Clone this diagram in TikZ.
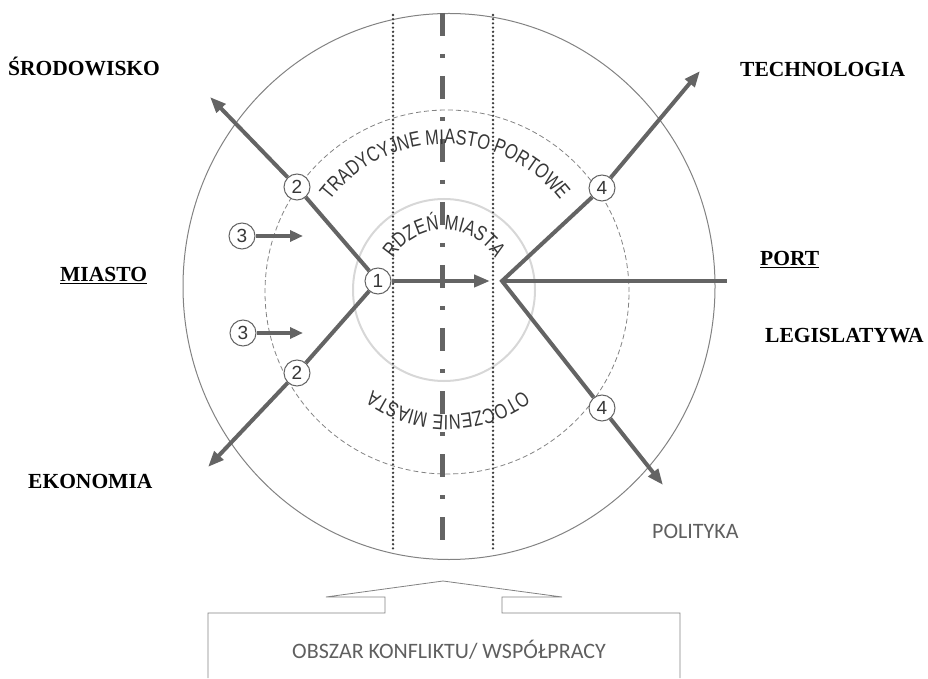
\documentclass[tikz,border=0pt]{standalone}
\usepackage{fontspec}
\setmainfont{Liberation Serif}
\newfontfamily\arialf{Liberation Sans}
\newfontfamily\arialn[FakeStretch=0.78]{Liberation Sans}
\newfontfamily\calf{Carlito}
\usetikzlibrary{arrows.meta,decorations.text}
\definecolor{lineg}{RGB}{100,100,100}
\definecolor{txtg}{RGB}{55,55,55}
\definecolor{numg}{RGB}{100,100,100}
\definecolor{circg}{RGB}{130,130,130}
\definecolor{innerg}{RGB}{215,215,215}
\definecolor{dotg}{RGB}{60,60,60}
\newcommand{\curvefont}{\arialn\fontsize{21}{21}\selectfont\color{txtg}}
\begin{document}
\begin{tikzpicture}[x=1pt,y=1pt,
  lbl/.style={font=\fontsize{21.5}{21.5}\selectfont\bfseries, anchor=base west, inner sep=0pt},
  graylbl/.style={font=\calf\fontsize{22}{22}\selectfont, text=txtg!80, inner sep=0pt},
  num/.style={circle, draw=numg, line width=1pt, minimum size=26pt, inner sep=0pt, font=\arialf\fontsize{19}{19}\selectfont, text=txtg, fill=white},
  heavy/.style={draw=lineg, line width=4pt},
  tip/.style={-{Triangle[length=16pt,width=12pt]}},
  smalltip/.style={-{Triangle[length=13pt,width=11pt]}},
  outline/.style={draw=circg, line width=0.8pt},
  dotline/.style={draw=dotg, line width=2.6pt, line cap=round, dash pattern=on 0pt off 4.2pt},
]
\useasboundingbox (0,0) rectangle (928,678);

% circles
\draw[outline, line width=1pt] (449,391.5) ellipse[x radius=266pt, y radius=273pt];
\draw[draw=circg, line width=0.8pt, dash pattern=on 5pt off 3pt] (447,386) circle[radius=182pt];
\draw[draw=innerg, line width=2pt] (444,388) circle[radius=91pt];

% vertical lines
\draw[dotline] (393,663) -- (393,126);
\draw[dotline] (493,663) -- (493,126);
\draw[draw=lineg, line width=5pt, dash pattern=on 23pt off 18pt on 4pt off 18pt] (442,665) -- (442,124);

% curved texts
\path[decorate, decoration={text along path, text align=center,
  text={|\curvefont|TRADYCYJNE MIASTO PORTOWE}}]
  (445,388) ++(180:146pt) arc[start angle=180, end angle=0, radius=146pt];
\path[decorate, decoration={text along path, text align=center,
  text={|\curvefont|RDZEŃ MIASTA}}]
  (444,388) ++(180:60pt) arc[start angle=180, end angle=0, radius=60pt];
\path[decorate, decoration={text along path, text align=center,
  text={|\curvefont|OTOCZENIE MIASTA}}]
  (448,388) ++(0:125pt) arc[start angle=0, end angle=-180, radius=125pt];

% numbered circles
\node[num] (n1) at (378,397) {1};
\node[num] (n2a) at (297,491) {2};
\node[num] (n2b) at (297,305) {2};
\node[num] (n3a) at (242,442) {3};
\node[num] (n3b) at (243,345) {3};
\node[num] (n4a) at (602,490) {4};
\node[num] (n4b) at (602,270) {4};

% coordinates
\coordinate (a1) at (490,397);
\coordinate (apex) at (502,397);
\coordinate (pend) at (727,397);
\coordinate (tS) at (210,581);
\coordinate (tE) at (208,211);
\coordinate (tT) at (700,607);
\coordinate (tP) at (663,193);
\coordinate (a3a) at (303,442);
\coordinate (a3b) at (303,345);

% heavy lines
\draw[heavy, tip] (n1) -- (a1);
\draw[heavy] (n1) -- (n2a);
\draw[heavy, tip] (n2a) -- (tS);
\draw[heavy] (n1) -- (n2b);
\draw[heavy, tip] (n2b) -- (tE);
\draw[heavy, line join=miter] (n4a) -- (apex) -- (n4b);
\draw[heavy] (apex) -- (pend);
\draw[heavy, tip] (n4a) -- (tT);
\draw[heavy, tip] (n4b) -- (tP);
\draw[heavy, line width=3.5pt, smalltip] (n3a) -- (a3a);
\draw[heavy, line width=3.5pt, smalltip] (n3b) -- (a3b);

% bold labels
\node[lbl] (srod) at (8,602) {ŚRODOWISKO};
\node[lbl] (miasto) at (60,396) {\underline{MIASTO}};
\node[lbl] (ekon) at (28,190) {EKONOMIA};
\node[lbl] (tech) at (740,601) {TECHNOLOGIA};
\node[lbl] (port) at (760,412) {\underline{PORT}};
\node[lbl] (legis) at (765,335) {LEGISLATYWA};
\node[graylbl, anchor=base west] (polit) at (652,140) {POLITYKA};

% bottom area
\draw[outline] (208,0) -- (208,65) -- (385,65) -- (385,81) -- (326,81) -- (443,97)
  -- (562,81) -- (502,81) -- (502,65) -- (680,65) -- (680,0);
\node[graylbl, anchor=base] (obszar) at (449,20) {OBSZAR KONFLIKTU/ WSPÓŁPRACY};
\end{tikzpicture}
\end{document}
